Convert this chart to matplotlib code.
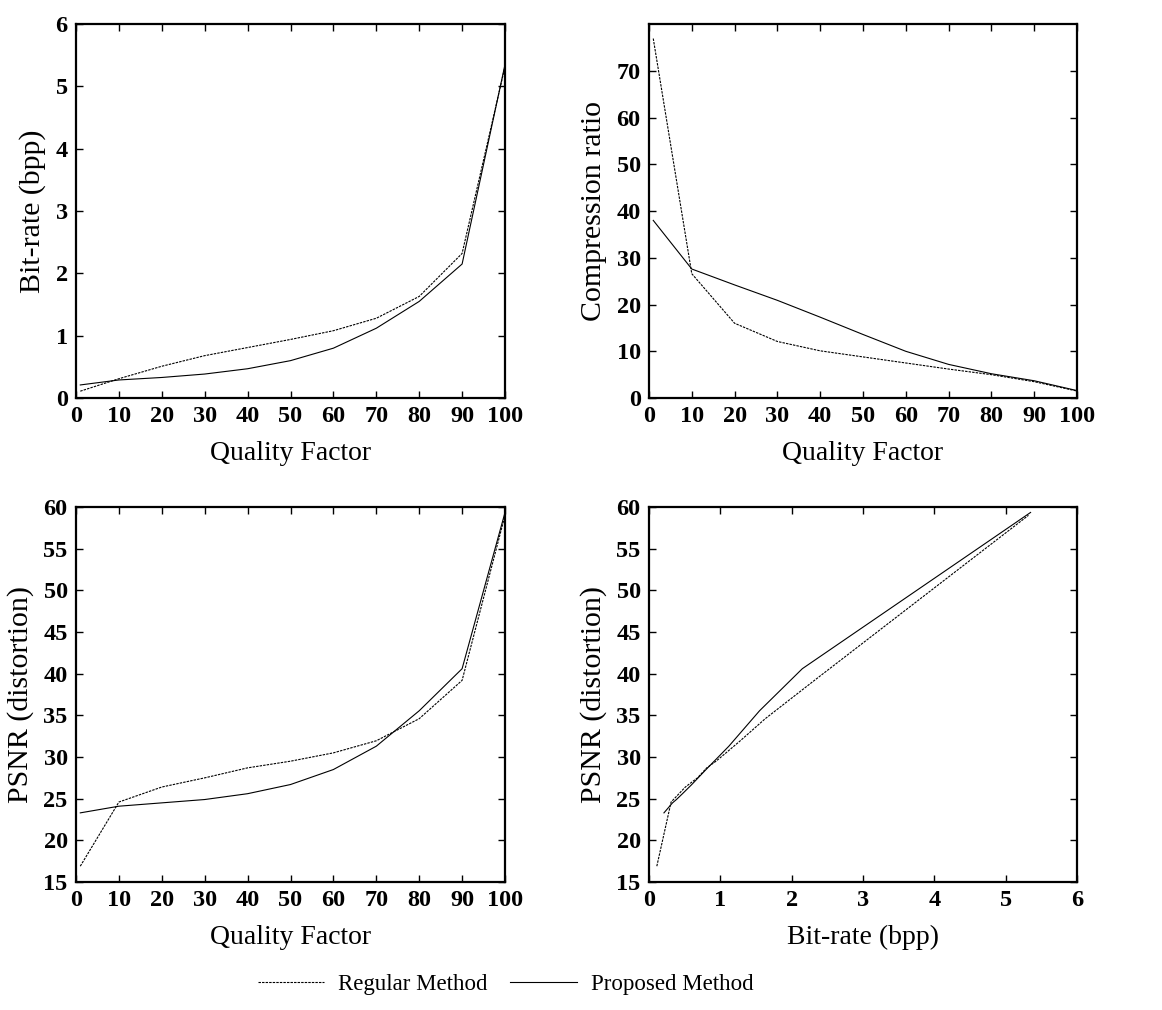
import matplotlib
matplotlib.use("Agg")
import matplotlib.pyplot as plt
from matplotlib.lines import Line2D

# Données
quality = [1, 10, 20, 30, 40, 50, 60, 70, 80, 90, 100]

bitrate_regular = [0.11, 0.31, 0.51, 0.68, 0.81, 0.94, 1.08, 1.28, 1.63, 2.32, 5.32]
bitrate_proposed = [0.21, 0.29, 0.33, 0.385, 0.47, 0.60, 0.80, 1.12, 1.55, 2.15, 5.35]

ratio_regular = [76.9, 26.6, 16.0, 12.1, 10.1, 8.8, 7.5, 6.2, 5.0, 3.5, 1.5]
ratio_proposed = [38.0, 27.6, 24.2, 20.9, 17.3, 13.6, 10.0, 7.2, 5.2, 3.7, 1.6]

psnr_regular = [16.9, 24.6, 26.4, 27.5, 28.7, 29.5, 30.5, 31.95, 34.6, 39.2, 59.0]
psnr_proposed = [23.3, 24.1, 24.5, 24.9, 25.6, 26.7, 28.5, 31.3, 35.55, 40.6, 59.35]

plt.rcParams['font.family'] = ['Liberation Serif', 'DejaVu Serif']

DASH = (0, (2.2, 1.0))
LW = 0.8

fig = plt.figure(figsize=(11.62, 10.10), dpi=100)
ax1 = fig.add_axes([0.0654, 0.6059, 0.3692, 0.3703])
ax2 = fig.add_axes([0.5585, 0.6059, 0.3683, 0.3703])
ax3 = fig.add_axes([0.0654, 0.1267, 0.3692, 0.3713])
ax4 = fig.add_axes([0.5585, 0.1267, 0.3683, 0.3713])


def style(ax, xlabel, ylabel, xlim, ylim, xticks, yticks):
    ax.set_xlim(*xlim)
    ax.set_ylim(*ylim)
    ax.set_xticks(xticks)
    ax.set_yticks(yticks)
    ax.tick_params(direction='in', top=True, right=True, length=5, width=1,
                   labelsize=17.5, pad=6)
    for lab in ax.get_xticklabels() + ax.get_yticklabels():
        lab.set_fontweight('bold')
    for sp in ax.spines.values():
        sp.set_linewidth(1.6)
    ax.set_xlabel(xlabel, fontsize=20, labelpad=10)
    ax.set_ylabel(ylabel, fontsize=21.5, labelpad=7)


ax1.plot(quality, bitrate_regular, color='black', lw=LW, linestyle=DASH)
ax1.plot(quality, bitrate_proposed, color='black', lw=LW)
style(ax1, 'Quality Factor', 'Bit-rate (bpp)', (0, 100), (0, 6),
      range(0, 101, 10), range(0, 7))

ax2.plot(quality, ratio_regular, color='black', lw=LW, linestyle=DASH)
ax2.plot(quality, ratio_proposed, color='black', lw=LW)
style(ax2, 'Quality Factor', 'Compression ratio', (0, 100), (0, 80),
      range(0, 101, 10), range(0, 71, 10))

ax3.plot(quality, psnr_regular, color='black', lw=LW, linestyle=DASH)
ax3.plot(quality, psnr_proposed, color='black', lw=LW)
style(ax3, 'Quality Factor', 'PSNR (distortion)', (0, 100), (15, 60),
      range(0, 101, 10), range(15, 61, 5))

ax4.plot(bitrate_regular, psnr_regular, color='black', lw=LW, linestyle=DASH)
ax4.plot(bitrate_proposed, psnr_proposed, color='black', lw=LW)
style(ax4, 'Bit-rate (bpp)', 'PSNR (distortion)', (0, 6), (15, 60),
      range(0, 7), range(15, 61, 5))

handles = [Line2D([], [], color='black', lw=LW, linestyle=DASH),
           Line2D([], [], color='black', lw=LW)]
fig.legend(handles, ['Regular Method', 'Proposed Method'], loc='center',
           bbox_to_anchor=(0.435, 0.025), ncol=2, frameon=False, fontsize=16.5,
           handlelength=2.9, handletextpad=0.6, columnspacing=1.0)

fig.savefig('out.png', dpi=100)
